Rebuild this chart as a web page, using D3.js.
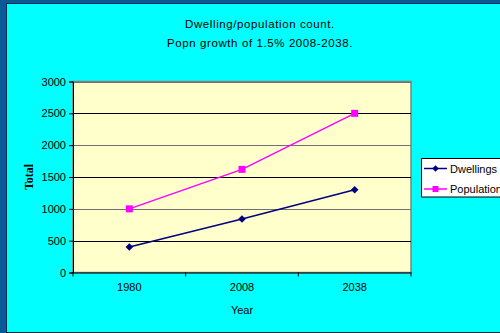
<!DOCTYPE html>
<html><head><meta charset="utf-8">
<script src="https://cdn.jsdelivr.net/npm/d3@7"></script>
<style>html,body{margin:0;padding:0;background:#0a5a9a;}svg{display:block;}</style>
</head><body>
<script>
const years = ["1980", "2008", "2038"];
const dwellings = [400, 840, 1300];
const population = [1000, 1620, 2500];
const yTicks = [0, 500, 1000, 1500, 2000, 2500, 3000];
const seriesNames = ["Dwellings", "Population"];
const seriesColors = ["#000080", "#ff00ff"];
const titleLines = ["Dwelling/population count.", "Popn growth of 1.5% 2008-2038."];

const W = 500, H = 333;
const svg = d3.select("body").append("svg").attr("width", W).attr("height", H);
svg.append("rect").attr("width", W).attr("height", H).attr("fill", "#0a5a9a");
svg.append("rect").attr("x", 6.5).attr("y", 3.5).attr("width", W).attr("height", H - 4)
  .attr("fill", "#00ffff").attr("stroke", "#003040").attr("stroke-width", 1);

const L = 73, R = 411, T = 81.5, B = 272.5;
const x = d3.scaleBand().domain(years).range([L, R]);
const y = d3.scaleLinear().domain([0, 3000]).range([B, T]);

svg.append("rect").attr("x", L).attr("y", T).attr("width", R - L).attr("height", B - T)
  .attr("fill", "#ffffcc").attr("stroke", "#808080").attr("stroke-width", 1.5);

const font = "Arial, 'Liberation Sans', sans-serif";
svg.append("g").selectAll("line").data(yTicks.filter(d => d > 0)).join("line")
  .attr("x1", L).attr("x2", R).attr("y1", d => Math.round(y(d)) + 0.5).attr("y2", d => Math.round(y(d)) + 0.5)
  .attr("stroke", (d, i) => i % 2 ? "#707070" : "#000").attr("stroke-width", 1.2);

const yAxis = d3.axisLeft(y).tickValues(yTicks).tickFormat(d3.format("d")).tickSize(4).tickPadding(3);
const gy = svg.append("g").attr("transform", `translate(${L},0)`).call(yAxis);
gy.select(".domain").attr("stroke", "#000");
gy.selectAll(".tick line").attr("stroke", "#000");
gy.selectAll("text").attr("font-family", font).attr("font-size", 11).attr("fill", "#000");

const xAxis = d3.axisBottom(x).tickSize(0).tickPadding(11);
const gx = svg.append("g").attr("transform", `translate(0,${B})`).call(xAxis);
gx.select(".domain").attr("stroke", "#000");
gx.selectAll("text").attr("font-family", font).attr("font-size", 11).attr("fill", "#000");
gx.selectAll("line.cat").data(d3.range(years.length + 1)).join("line").attr("class", "cat")
  .attr("x1", i => L + i * x.step()).attr("x2", i => L + i * x.step())
  .attr("y1", 0).attr("y2", 4).attr("stroke", "#000");

svg.append("g").selectAll("text").data(titleLines).join("text")
  .attr("x", 260).attr("y", (d, i) => 28 + i * 19).attr("text-anchor", "middle")
  .attr("font-family", font).attr("font-size", 11.5).attr("letter-spacing", 0.6).attr("fill", "#000")
  .text(d => d);

svg.append("text").attr("x", 242).attr("y", 314).attr("text-anchor", "middle")
  .attr("font-family", font).attr("font-size", 11).attr("fill", "#000").text("Year");
svg.append("text").attr("transform", "translate(33,177) rotate(-90)").attr("text-anchor", "middle")
  .attr("font-family", "'Liberation Serif', 'Times New Roman', serif").attr("font-weight", "bold")
  .attr("font-size", 12).attr("fill", "#000").text("Total");

const diamond = r => `M0,${-r}L${r},0L0,${r}L${-r},0Z`;
const series = [dwellings, population];
const line = d3.line().x((d, i) => x(years[i]) + x.bandwidth() / 2).y(d => y(d));
series.forEach((vals, s) => {
  svg.append("path").datum(vals).attr("d", line).attr("fill", "none")
    .attr("stroke", seriesColors[s]).attr("stroke-width", 1.5);
  const g = svg.append("g");
  vals.forEach((v, i) => {
    const cx = x(years[i]) + x.bandwidth() / 2, cy = y(v);
    if (s === 0) {
      g.append("path").attr("d", diamond(3.8)).attr("transform", `translate(${cx},${cy})`)
        .attr("fill", seriesColors[s]);
    } else {
      g.append("rect").attr("x", cx - 3.5).attr("y", cy - 3.5).attr("width", 7).attr("height", 7)
        .attr("fill", seriesColors[s]);
    }
  });
});

svg.append("rect").attr("x", 421.5).attr("y", 158.5).attr("width", 90).attr("height", 38.5)
  .attr("fill", "#fff").attr("stroke", "#000").attr("stroke-width", 1);
seriesNames.forEach((n, s) => {
  const ly = 168.5 + s * 20.5;
  svg.append("line").attr("x1", 424).attr("x2", 447).attr("y1", ly).attr("y2", ly)
    .attr("stroke", seriesColors[s]).attr("stroke-width", 1.5);
  if (s === 0) svg.append("path").attr("d", diamond(3.3)).attr("transform", `translate(435.5,${ly})`).attr("fill", seriesColors[s]);
  else svg.append("rect").attr("x", 432.5).attr("y", ly - 3).attr("width", 6).attr("height", 6).attr("fill", seriesColors[s]);
  svg.append("text").attr("x", 450).attr("y", ly + 4).attr("font-family", font).attr("font-size", 11)
    .attr("fill", "#000").text(n);
});
</script>
</body></html>
